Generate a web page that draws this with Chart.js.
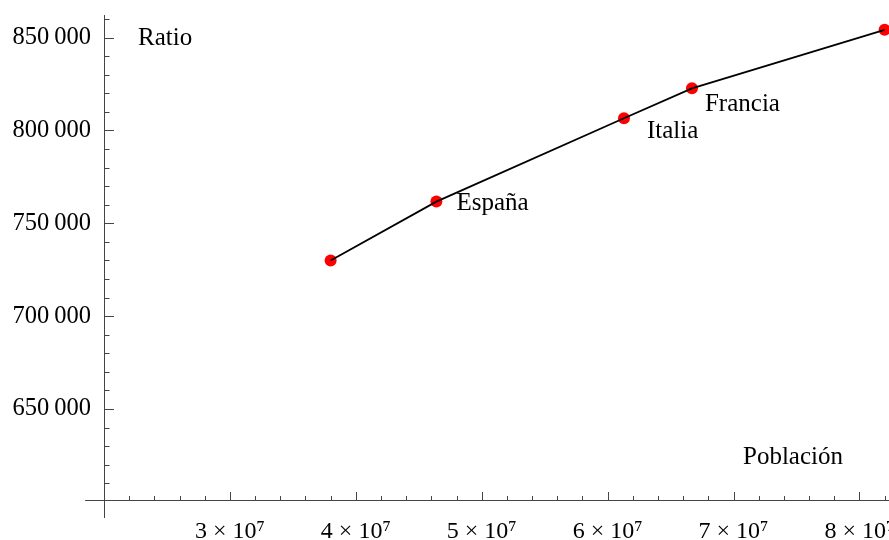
<!DOCTYPE html>
<html>
<head>
<meta charset="utf-8">
<script src="https://cdn.jsdelivr.net/npm/chart.js@4.4.1/dist/chart.umd.min.js"></script>
<style>
  html, body { margin: 0; padding: 0; background: #fff; overflow: hidden; }
  #wrap { width: 889px; height: 540px; position: relative; }
  canvas { display: block; }
</style>
</head>
<body>
<div id="wrap"><canvas id="grafico"></canvas></div>
<script>
// Datos
const paises = ['', 'España', 'Italia', 'Francia', ''];
const poblacion = [3.80e7, 4.64e7, 6.13e7, 6.67e7, 8.20e7];
const ratio = [730000, 761700, 806600, 822700, 854200];

const xTicks = [3e7, 4e7, 5e7, 6e7, 7e7, 8e7];
const xTickLabels = ['3 × 10⁷', '4 × 10⁷', '5 × 10⁷', '6 × 10⁷', '7 × 10⁷', '8 × 10⁷'];
const yTicks = [650000, 700000, 750000, 800000, 850000];
const yTickLabels = ['650\u2009000', '700\u2009000', '750\u2009000', '800\u2009000', '850\u2009000'];

// rango de los ejes
const xMin = 2e7, xMax = 8.235e7, xAxisFrom = 1.85e7, xMinorStep = 2e6;
const yMin = 601000, yMax = 862200, yAxisFrom = 591300, yMinorStep = 10000;

const fuente = "'Liberation Serif', 'Times New Roman', serif";
const colorEje = '#444';

// desplazamiento de las etiquetas de cada punto (px)
const offsetEtiquetas = [[0, 0], [20, 2], [23, 13], [13, 16], [0, 0]];

const puntos = poblacion.map((p, i) => ({ x: p, y: ratio[i] }));

const decoracion = {
    id: 'decoracion',
    afterDraw(chart) {
        const ctx = chart.ctx;
        const x = chart.scales.x;
        const y = chart.scales.y;
        const area = chart.chartArea;
        ctx.save();

        // prolongación de los ejes
        ctx.strokeStyle = colorEje;
        ctx.lineWidth = 1;
        ctx.beginPath();
        ctx.moveTo(x.getPixelForValue(xAxisFrom), area.bottom + 0.5);
        ctx.lineTo(area.left, area.bottom + 0.5);
        ctx.moveTo(area.left + 0.5, area.bottom);
        ctx.lineTo(area.left + 0.5, y.getPixelForValue(yAxisFrom));
        ctx.stroke();

        // marcas del eje x
        ctx.beginPath();
        for (let v = xMin + xMinorStep; v <= xMax; v += xMinorStep) {
            const px = Math.round(x.getPixelForValue(v)) + 0.5;
            const largo = xTicks.some(t => Math.abs(t - v) < 1) ? 8 : 4;
            ctx.moveTo(px, area.bottom);
            ctx.lineTo(px, area.bottom - largo);
        }
        // marcas del eje y
        for (let v = 610000; v <= yMax; v += yMinorStep) {
            const py = Math.round(y.getPixelForValue(v)) + 0.5;
            const largo = yTicks.includes(v) ? 10 : 5.5;
            ctx.moveTo(area.left, py);
            ctx.lineTo(area.left + largo, py);
        }
        ctx.stroke();

        // etiquetas del eje x
        ctx.fillStyle = '#000';
        ctx.font = '24px ' + fuente;
        ctx.textAlign = 'center';
        ctx.textBaseline = 'alphabetic';
        xTicks.forEach((t, i) => {
            ctx.fillText(xTickLabels[i], x.getPixelForValue(t), area.bottom + 38);
        });

        // textos
        ctx.font = '25px ' + fuente;
        ctx.textBaseline = 'middle';
        ctx.textAlign = 'left';
        ctx.fillText('Ratio', area.left + 34, area.top + 23);
        ctx.fillText('Población', area.left + 639, area.bottom - 43);

        const meta = chart.getDatasetMeta(1);
        meta.data.forEach((el, i) => {
            if (!paises[i]) return;
            ctx.fillText(paises[i], el.x + offsetEtiquetas[i][0], el.y + offsetEtiquetas[i][1]);
        });
        ctx.restore();
    }
};

const ctx = document.getElementById('grafico').getContext('2d');
const grafico = new Chart(ctx, {
    type: 'scatter',
    data: {
        datasets: [{
            label: 'linea',
            data: puntos,
            showLine: true,
            borderColor: '#000',
            borderWidth: 1.8,
            pointRadius: 0,
            order: 1
        }, {
            label: 'puntos',
            data: puntos,
            backgroundColor: '#ff0000',
            borderWidth: 0,
            pointRadius: 6,
            clip: false,
            order: 2
        }]
    },
    options: {
        responsive: true,
        maintainAspectRatio: false,
        animation: false,
        layout: { autoPadding: false, padding: { top: 15, left: 0, right: 0, bottom: 0 } },
        plugins: {
            legend: { display: false },
            tooltip: { enabled: false }
        },
        scales: {
            x: {
                type: 'linear',
                position: 'bottom',
                min: xMin,
                max: xMax,
                grid: { display: false },
                border: { display: true, color: colorEje, width: 1 },
                ticks: { display: false },
                afterBuildTicks: (scale) => { scale.ticks = xTicks.map(v => ({ value: v })); },
                afterFit: (scale) => {
                    scale.height = 40;
                    scale.paddingLeft = 0;
                    scale.paddingRight = 0;
                }
            },
            y: {
                type: 'linear',
                position: 'left',
                min: yMin,
                max: yMax,
                grid: { display: false },
                border: { display: true, color: colorEje, width: 1 },
                ticks: {
                    color: '#000',
                    font: { family: fuente, size: 24.5 },
                    padding: 5,
                    autoSkip: false,
                    callback: (v, i) => yTickLabels[i]
                },
                afterBuildTicks: (scale) => { scale.ticks = yTicks.map(v => ({ value: v })); },
                afterFit: (scale) => {
                    scale.width = 104;
                    scale.paddingTop = 0;
                    scale.paddingBottom = 0;
                }
            }
        }
    },
    plugins: [decoracion]
});
</script>
</body>
</html>
